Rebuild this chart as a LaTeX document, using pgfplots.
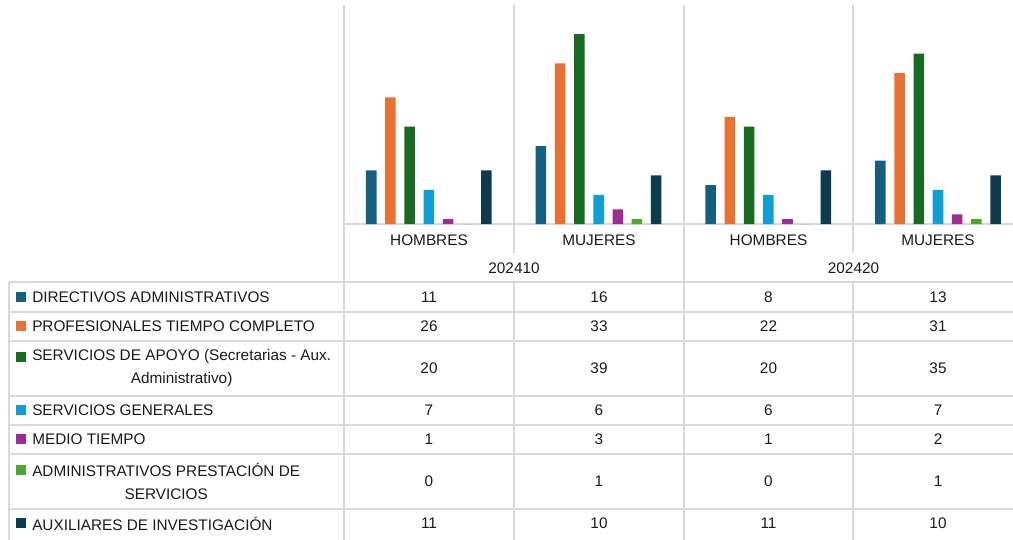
\documentclass[border=0pt]{standalone}
\usepackage{fontspec}
\setmainfont{Liberation Sans}
\usepackage{pgfplots}
\pgfplotsset{compat=1.18}
\definecolor{c1}{HTML}{156082}
\definecolor{c2}{HTML}{E97132}
\definecolor{c3}{HTML}{196B24}
\definecolor{c4}{HTML}{0F9ED5}
\definecolor{c5}{HTML}{A02B93}
\definecolor{c6}{HTML}{4EA72E}
\definecolor{c7}{HTML}{0D3A4E}
\definecolor{gridc}{HTML}{D9D9D9}
\definecolor{txt}{HTML}{1A1A1A}
\begin{document}
\begin{tikzpicture}[font=\fontsize{11.5}{17.25}\selectfont, text=txt]
\begin{scope}[x=0.75pt,y=-0.75pt]
\path[use as bounding box] (0,0) rectangle (1013,539);
\tikzset{grid/.style={draw=gridc, line width=1.1pt}}
\draw[grid] (344,5) -- (344,545);
\draw[grid] (684,5) -- (684,545);
\draw[grid] (514,5) -- (514,253);
\draw[grid] (853,5) -- (853,253);
\draw[grid] (514,282) -- (514,545);
\draw[grid] (853,282) -- (853,545);
\draw[grid] (344,224) -- (1013,224);
\foreach \y in {282,312,341,396,425,454,509} \draw[grid] (9,\y) -- (1013,\y);
\draw[grid] (9,282) -- (9,545);
% category labels
\node at (429,240) {HOMBRES};
\node at (599,240) {MUJERES};
\node at (768.5,240) {HOMBRES};
\node at (938,240) {MUJERES};
\node at (514,268) {202410};
\node at (853.5,268) {202420};
% legend squares
\fill[c1] (16,291.5) rectangle (26,301.5);
\fill[c2] (16,321) rectangle (26,331);
\fill[c3] (16,351.5) rectangle (26,361.5);
\fill[c4] (16,405) rectangle (26,415);
\fill[c5] (16,434) rectangle (26,444);
\fill[c6] (16,465) rectangle (26,475);
\fill[c7] (16,518) rectangle (26,528);
% row labels
\node[anchor=west, inner sep=0] at (32,297) {DIRECTIVOS ADMINISTRATIVOS};
\node[anchor=west, inner sep=0] at (32,326.5) {PROFESIONALES TIEMPO COMPLETO};
\node[anchor=west, inner sep=0, align=center] at (32,368.5) {SERVICIOS DE APOYO (Secretarias - Aux.\\Administrativo)};
\node[anchor=west, inner sep=0] at (32,410) {SERVICIOS GENERALES};
\node[anchor=west, inner sep=0] at (32,439.5) {MEDIO TIEMPO};
\node[anchor=west, inner sep=0, align=center] at (32,481.5) {ADMINISTRATIVOS PRESTACIÓN DE\\SERVICIOS};
\node[anchor=west, inner sep=0] at (32,523.5) {AUXILIARES DE INVESTIGACIÓN};
% values
\foreach \y/\a/\b/\c/\d in {297/11/16/8/13, 326.5/26/33/22/31, 368.5/20/39/20/35, 410/7/6/6/7, 439.5/1/3/1/2, 481.5/0/1/0/1, 523.5/11/10/11/10} {
  \node at (429,\y) {\a};
  \node at (599,\y) {\b};
  \node at (768.5,\y) {\c};
  \node at (938,\y) {\d};
}
\end{scope}
\begin{axis}[
  at={(258pt,-168pt)}, anchor=south west,
  scale only axis, width=501.75pt, height=164.25pt,
  xmin=-0.5, xmax=3.442, ymin=0, ymax=45,
  hide axis, clip=false,
  ybar=6.5pt, bar width=7.9pt,
  every axis plot/.append style={draw=none},
]
\addplot[fill=c1] coordinates {(0,11) (1,16) (2,8) (3,13)};
\addplot[fill=c2] coordinates {(0,26) (1,33) (2,22) (3,31)};
\addplot[fill=c3] coordinates {(0,20) (1,39) (2,20) (3,35)};
\addplot[fill=c4] coordinates {(0,7) (1,6) (2,6) (3,7)};
\addplot[fill=c5] coordinates {(0,1) (1,3) (2,1) (3,2)};
\addplot[fill=c6] coordinates {(0,0) (1,1) (2,0) (3,1)};
\addplot[fill=c7] coordinates {(0,11) (1,10) (2,11) (3,10)};
\end{axis}
\end{tikzpicture}
\end{document}
